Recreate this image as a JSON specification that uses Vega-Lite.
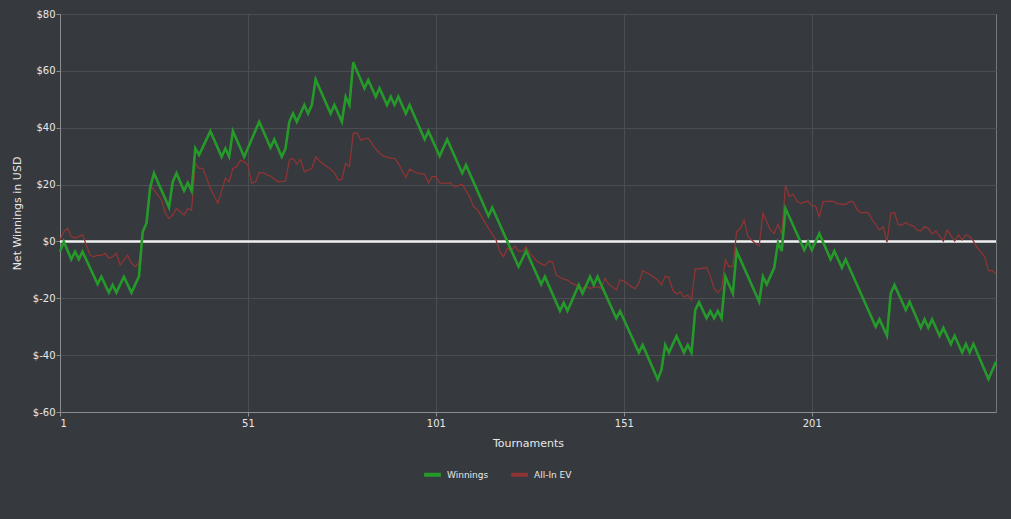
{
  "$schema": "https://vega.github.io/schema/vega-lite/v6.json",
  "width": 936,
  "height": 398,
  "autosize": {"type": "none"},
  "padding": {"left": 60, "top": 14, "right": 15, "bottom": 107},
  "background": "#36393d",
  "config": {
    "view": {"stroke": "#74777b", "strokeWidth": 1},
    "font": "DejaVu Sans",
    "axis": {
      "gridColor": "#4a4d52", "gridWidth": 1,
      "domainColor": "#8a8d90", "tickColor": "#8a8d90", "tickSize": 4,
      "labelColor": "#e8e8e8", "titleColor": "#e8e8e8",
      "labelFont": "DejaVu Sans", "titleFont": "DejaVu Sans",
      "labelFontSize": 10, "titleFontSize": 11, "titleFontWeight": "normal"
    },
    "legend": {"labelFont": "DejaVu Sans"}
  },
  "datasets": {
    "winnings": [
      {"t":1,"v":-3.6},{"t":2,"v":0},{"t":4,"v":-6.3},{"t":5,"v":-3.6},{"t":6,"v":-6.3},{"t":7,"v":-3.6},
      {"t":11,"v":-15.0},{"t":12,"v":-12.4},{"t":14,"v":-18.0},{"t":15,"v":-15.3},{"t":16,"v":-18.0},{"t":18,"v":-12.4},
      {"t":20,"v":-18.0},{"t":22,"v":-12.4},{"t":23,"v":3.4},{"t":24,"v":6.4},{"t":25,"v":19.0},{"t":26,"v":24.0},
      {"t":30,"v":12.0},{"t":31,"v":21.0},{"t":32,"v":24.0},{"t":34,"v":17.8},{"t":35,"v":20.6},{"t":36,"v":17.8},
      {"t":37,"v":32.7},{"t":38,"v":30.4},{"t":41,"v":38.8},{"t":44,"v":29.8},{"t":45,"v":32.7},{"t":46,"v":29.8},
      {"t":47,"v":38.8},{"t":50,"v":29.8},{"t":54,"v":42.1},{"t":57,"v":33.0},{"t":58,"v":35.9},{"t":60,"v":29.8},
      {"t":61,"v":32.7},{"t":62,"v":42.1},{"t":63,"v":45.0},{"t":64,"v":42.1},{"t":66,"v":48.0},{"t":67,"v":45.0},
      {"t":68,"v":48.0},{"t":69,"v":57.0},{"t":73,"v":45.0},{"t":74,"v":48.0},{"t":76,"v":42.1},{"t":77,"v":50.9},
      {"t":78,"v":48.0},{"t":79,"v":63.0},{"t":82,"v":53.9},{"t":83,"v":56.8},{"t":85,"v":50.9},{"t":86,"v":53.9},
      {"t":88,"v":48.0},{"t":89,"v":50.9},{"t":90,"v":48.0},{"t":91,"v":50.9},{"t":93,"v":45.0},{"t":94,"v":48.0},
      {"t":98,"v":35.9},{"t":99,"v":38.8},{"t":102,"v":30.0},{"t":104,"v":35.9},{"t":108,"v":24.0},{"t":109,"v":26.9},
      {"t":115,"v":8.9},{"t":116,"v":11.9},{"t":123,"v":-8.9},{"t":125,"v":-3.3},{"t":129,"v":-15.1},{"t":130,"v":-12.4},
      {"t":134,"v":-24.4},{"t":135,"v":-21.6},{"t":136,"v":-24.4},{"t":139,"v":-15.3},{"t":140,"v":-18.3},{"t":142,"v":-12.4},
      {"t":143,"v":-15.3},{"t":144,"v":-12.4},{"t":149,"v":-27.0},{"t":150,"v":-24.5},{"t":155,"v":-39.1},{"t":156,"v":-36.4},
      {"t":160,"v":-48.5},{"t":161,"v":-45.2},{"t":162,"v":-36.4},{"t":163,"v":-39.1},{"t":165,"v":-33.3},{"t":167,"v":-39.1},
      {"t":168,"v":-36.4},{"t":169,"v":-39.1},{"t":170,"v":-24.1},{"t":171,"v":-21.4},{"t":173,"v":-27.0},{"t":174,"v":-24.5},
      {"t":175,"v":-27.0},{"t":176,"v":-24.5},{"t":177,"v":-27.0},{"t":178,"v":-12.4},{"t":180,"v":-18.3},{"t":181,"v":-3.4},
      {"t":187,"v":-21.2},{"t":188,"v":-12.4},{"t":189,"v":-15.1},{"t":191,"v":-9.3},{"t":192,"v":-0.4},{"t":193,"v":-3.4},
      {"t":194,"v":11.6},{"t":199,"v":-3.0},{"t":200,"v":-0.1},{"t":201,"v":-3.0},{"t":203,"v":2.8},{"t":206,"v":-6.3},
      {"t":207,"v":-3.4},{"t":209,"v":-9.3},{"t":210,"v":-6.3},{"t":218,"v":-30.0},{"t":219,"v":-27.4},{"t":221,"v":-33.2},
      {"t":222,"v":-18.3},{"t":223,"v":-15.3},{"t":226,"v":-24.1},{"t":227,"v":-21.2},{"t":230,"v":-30.4},{"t":231,"v":-27.4},
      {"t":232,"v":-30.4},{"t":233,"v":-27.4},{"t":235,"v":-33.2},{"t":236,"v":-30.4},{"t":238,"v":-36.1},{"t":239,"v":-33.2},
      {"t":241,"v":-39.1},{"t":242,"v":-36.1},{"t":243,"v":-39.1},{"t":244,"v":-36.1},{"t":248,"v":-48.4},{"t":250,"v":-42.3}
    ],
    "ev": [
      {"t":1,"v":0.5},{"t":2,"v":3.4},{"t":3,"v":4.6},{"t":4,"v":1.7},{"t":5,"v":1.3},{"t":6,"v":1.7},{"t":7,"v":2.3},
      {"t":9,"v":-4.8},{"t":10,"v":-5.4},{"t":11,"v":-4.8},{"t":12,"v":-5.0},{"t":13,"v":-4.2},{"t":14,"v":-5.9},
      {"t":15,"v":-5.4},{"t":16,"v":-4.2},{"t":17,"v":-8.3},{"t":18,"v":-6.5},{"t":19,"v":-4.8},{"t":20,"v":-7.7},
      {"t":21,"v":-8.9},{"t":22,"v":-7.7},{"t":23,"v":2.8},{"t":24,"v":6.4},{"t":25,"v":19.8},{"t":26,"v":18.1},
      {"t":28,"v":14.6},{"t":29,"v":9.9},{"t":30,"v":8.1},{"t":31,"v":9.3},{"t":32,"v":11.6},{"t":34,"v":9.3},
      {"t":35,"v":11.6},{"t":36,"v":11.0},{"t":37,"v":27.5},{"t":38,"v":25.7},{"t":39,"v":25.7},{"t":41,"v":18.7},
      {"t":43,"v":13.4},{"t":45,"v":22.2},{"t":46,"v":21.0},{"t":47,"v":25.7},{"t":48,"v":26.3},{"t":49,"v":28.6},
      {"t":50,"v":28.0},{"t":51,"v":26.9},{"t":52,"v":20.4},{"t":53,"v":21.0},{"t":54,"v":24.2},{"t":55,"v":24.2},
      {"t":56,"v":23.4},{"t":57,"v":23.0},{"t":59,"v":21.0},{"t":61,"v":21.2},{"t":62,"v":28.6},{"t":63,"v":29.2},
      {"t":64,"v":27.2},{"t":65,"v":28.9},{"t":66,"v":24.5},{"t":68,"v":25.7},{"t":69,"v":29.8},{"t":70,"v":28.4},
      {"t":71,"v":27.2},{"t":73,"v":25.4},{"t":74,"v":24.2},{"t":75,"v":21.6},{"t":76,"v":21.8},{"t":77,"v":27.5},
      {"t":78,"v":26.3},{"t":79,"v":38.0},{"t":80,"v":38.2},{"t":81,"v":35.7},{"t":83,"v":36.3},{"t":85,"v":32.5},
      {"t":86,"v":31.2},{"t":87,"v":30.0},{"t":89,"v":29.2},{"t":90,"v":29.2},{"t":91,"v":27.5},{"t":93,"v":22.5},
      {"t":94,"v":25.4},{"t":96,"v":24.0},{"t":98,"v":23.6},{"t":99,"v":20.6},{"t":100,"v":22.8},{"t":101,"v":22.8},
      {"t":102,"v":20.6},{"t":103,"v":20.4},{"t":105,"v":20.6},{"t":106,"v":19.2},{"t":108,"v":20.1},{"t":110,"v":15.7},
      {"t":111,"v":12.2},{"t":112,"v":11.3},{"t":115,"v":4.6},{"t":117,"v":0.5},{"t":118,"v":-3.6},{"t":119,"v":-5.4},
      {"t":120,"v":-2.4},{"t":121,"v":-3.3},{"t":122,"v":-1.6},{"t":123,"v":-3.4},{"t":124,"v":-3.4},{"t":125,"v":-1.9},
      {"t":126,"v":-4.2},{"t":128,"v":-7.1},{"t":130,"v":-8.5},{"t":131,"v":-7.1},{"t":132,"v":-7.1},{"t":133,"v":-11.8},
      {"t":135,"v":-13.3},{"t":136,"v":-13.6},{"t":137,"v":-14.7},{"t":139,"v":-15.7},{"t":140,"v":-16.5},{"t":141,"v":-15.9},
      {"t":142,"v":-16.5},{"t":144,"v":-15.9},{"t":145,"v":-16.5},{"t":146,"v":-13.0},{"t":147,"v":-15.0},{"t":149,"v":-17.1},
      {"t":150,"v":-13.6},{"t":151,"v":-13.9},{"t":153,"v":-15.9},{"t":154,"v":-16.7},{"t":155,"v":-14.7},{"t":156,"v":-10.3},
      {"t":157,"v":-11.0},{"t":158,"v":-11.6},{"t":160,"v":-13.6},{"t":161,"v":-15.3},{"t":162,"v":-12.2},{"t":163,"v":-12.8},
      {"t":164,"v":-17.1},{"t":165,"v":-18.5},{"t":166,"v":-17.7},{"t":167,"v":-19.5},{"t":168,"v":-18.9},{"t":169,"v":-20.6},
      {"t":170,"v":-9.5},{"t":171,"v":-9.7},{"t":173,"v":-9.1},{"t":174,"v":-12.2},{"t":175,"v":-16.5},{"t":176,"v":-18.0},
      {"t":177,"v":-16.5},{"t":178,"v":-6.5},{"t":179,"v":-8.9},{"t":180,"v":-8.7},{"t":181,"v":3.4},{"t":182,"v":4.6},
      {"t":183,"v":7.5},{"t":184,"v":1.7},{"t":186,"v":-0.7},{"t":187,"v":-1.6},{"t":188,"v":9.9},{"t":189,"v":6.9},
      {"t":190,"v":4.0},{"t":191,"v":2.8},{"t":192,"v":6.1},{"t":193,"v":2.5},{"t":194,"v":19.8},{"t":195,"v":15.7},
      {"t":196,"v":16.7},{"t":197,"v":14.3},{"t":198,"v":13.4},{"t":200,"v":14.2},{"t":201,"v":12.5},{"t":202,"v":12.5},
      {"t":203,"v":8.7},{"t":204,"v":14.0},{"t":206,"v":14.2},{"t":207,"v":14.0},{"t":208,"v":13.2},{"t":210,"v":13.0},
      {"t":211,"v":14.0},{"t":212,"v":14.0},{"t":213,"v":11.3},{"t":214,"v":10.1},{"t":215,"v":10.2},{"t":216,"v":10.1},
      {"t":217,"v":7.8},{"t":219,"v":4.0},{"t":220,"v":5.2},{"t":221,"v":-0.3},{"t":222,"v":9.9},{"t":223,"v":10.1},
      {"t":224,"v":5.8},{"t":225,"v":5.8},{"t":226,"v":6.7},{"t":227,"v":5.8},{"t":228,"v":5.5},{"t":229,"v":4.0},
      {"t":230,"v":3.7},{"t":231,"v":5.2},{"t":232,"v":4.6},{"t":233,"v":2.6},{"t":234,"v":3.7},{"t":236,"v":0.1},
      {"t":237,"v":4.0},{"t":239,"v":0.1},{"t":240,"v":2.3},{"t":241,"v":0.5},{"t":242,"v":2.3},{"t":243,"v":1.7},
      {"t":244,"v":0.1},{"t":245,"v":-2.2},{"t":247,"v":-5.4},{"t":248,"v":-10.3},{"t":249,"v":-10.3},{"t":250,"v":-11.5}
    ],
    "zero": [{"v": 0}]
  },
  "encoding": {
    "x": {
      "field": "t", "type": "quantitative",
      "scale": {"domain": [1, 250], "nice": false, "zero": false},
      "axis": {"values": [1, 51, 101, 151, 201], "title": "Tournaments", "labelPadding": 2, "titlePadding": 9, "grid": true}
    },
    "y": {
      "field": "v", "type": "quantitative",
      "scale": {"domain": [-60, 80], "nice": false, "zero": false},
      "axis": {"values": [-60, -40, -20, 0, 20, 40, 60, 80], "labelExpr": "'$' + datum.value", "title": "Net Winnings in USD", "labelPadding": 1, "titlePadding": 10, "grid": true}
    }
  },
  "layer": [
    {
      "data": {"name": "zero"},
      "mark": {"type": "rule", "color": "#f2f2f2", "strokeWidth": 2.5},
      "encoding": {"y": {"field": "v", "type": "quantitative"}, "x": null}
    },
    {
      "data": {"name": "ev"},
      "mark": {"type": "line", "strokeWidth": 1.3},
      "encoding": {
        "color": {
          "datum": "All-In EV", "type": "nominal",
          "scale": {"domain": ["Winnings", "All-In EV"], "range": ["#259a2b", "#8f3434"]},
          "legend": {"orient": "none", "legendX": 362, "legendY": 450, "direction": "horizontal", "title": null, "symbolType": "stroke", "symbolStrokeWidth": 4, "symbolSize": 280, "labelColor": "#e8e8e8", "labelFontSize": 9, "columnPadding": 14}
        }
      }
    },
    {
      "data": {"name": "winnings"},
      "mark": {"type": "line", "strokeWidth": 2.6},
      "encoding": {
        "color": {"datum": "Winnings", "type": "nominal"}
      }
    }
  ]
}
